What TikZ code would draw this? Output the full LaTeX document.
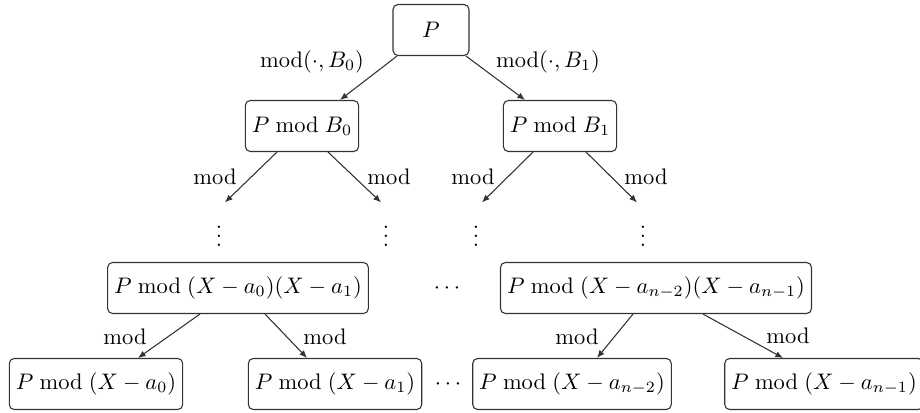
\documentclass[tikz,border=0pt]{standalone}
\usetikzlibrary{arrows.meta,calc}
\begin{document}
\begin{tikzpicture}[x=0.445pt,y=-0.445pt,
  box/.style={draw=black!80,line width=0.48pt,rounded corners=2.2pt,minimum height=22.7pt,inner xsep=2.9pt,inner ysep=2pt},
  arr/.style={draw=black!80,line width=0.48pt,-{Latex[length=3.4pt,width=2.8pt]}},
  lab/.style={inner sep=0pt}]
\useasboundingbox (0,0) rectangle (920,412);
% nodes
\node[box,minimum width=33.8pt] (P) at (431,30) {$P$};
\node[box] (B0) at (302,126) {$P \bmod B_0$};
\node[box] (B1) at (560,126) {$P \bmod B_1$};
\node[inner sep=1pt] (d1) at (219,230) {$\vdots$};
\node[inner sep=1pt] (d2) at (386,230) {$\vdots$};
\node[inner sep=1pt] (d3) at (476,230) {$\vdots$};
\node[inner sep=1pt] (d4) at (643,230) {$\vdots$};
\node[box] (M0) at (238,288) {$P \bmod (X-a_0)(X-a_1)$};
\node[box] (M1) at (656,288) {$P \bmod (X-a_{n-2})(X-a_{n-1})$};
\node[lab] (h1) at (447,288) {$\cdots$};
\node[box] (L0) at (96,384) {$P \bmod (X-a_0)$};
\node[box] (L1) at (335,384) {$P \bmod (X-a_1)$};
\node[box] (L2) at (572,384) {$P \bmod (X-a_{n-2})$};
\node[box] (L3) at (824,384) {$P \bmod (X-a_{n-1})$};
\node[lab] (h2) at (448,384) {$\cdots$};
% labels
\node[lab] (t0) at (312,62) {$\mathrm{mod}(\cdot,B_0)$};
\node[lab] (t1) at (548,62) {$\mathrm{mod}(\cdot,B_1)$};
\node[lab] (m1) at (215,177) {mod};
\node[lab] (m2) at (389,177) {mod};
\node[lab] (m3) at (473,177) {mod};
\node[lab] (m4) at (646,177) {mod};
\node[lab] (m5) at (125,337) {mod};
\node[lab] (m6) at (325,337) {mod};
\node[lab] (m7) at (577,337) {mod};
\node[lab] (m8) at (788,336) {mod};
% arrows
\draw[arr] ($(P.south)+(-34,0)$) -- ($(B0.north)+(38,0)$);
\draw[arr] ($(P.south)+(35,0)$) -- ($(B1.north)+(-35,0)$);
\draw[arr] ($(B0.south)+(-25,0)$) -- ($(d1.north)+(6,-8)$);
\draw[arr] ($(B0.south)+(26,0)$) -- ($(d2.north)+(-5,-8)$);
\draw[arr] ($(B1.south)+(-27,0)$) -- ($(d3.north)+(6,-8)$);
\draw[arr] ($(B1.south)+(26,0)$) -- ($(d4.north)+(-6,-8)$);
\draw[arr] ($(M0.south)+(-38,0)$) -- ($(L0.north)+(42,0)$);
\draw[arr] ($(M0.south)+(27,0)$) -- ($(L1.north)+(-28,0)$);
\draw[arr] ($(M1.south)+(-23,0)$) -- ($(L2.north)+(25,0)$);
\draw[arr] ($(M1.south)+(47,0)$) -- ($(L3.north)+(-41,0)$);
\end{tikzpicture}
\end{document}
